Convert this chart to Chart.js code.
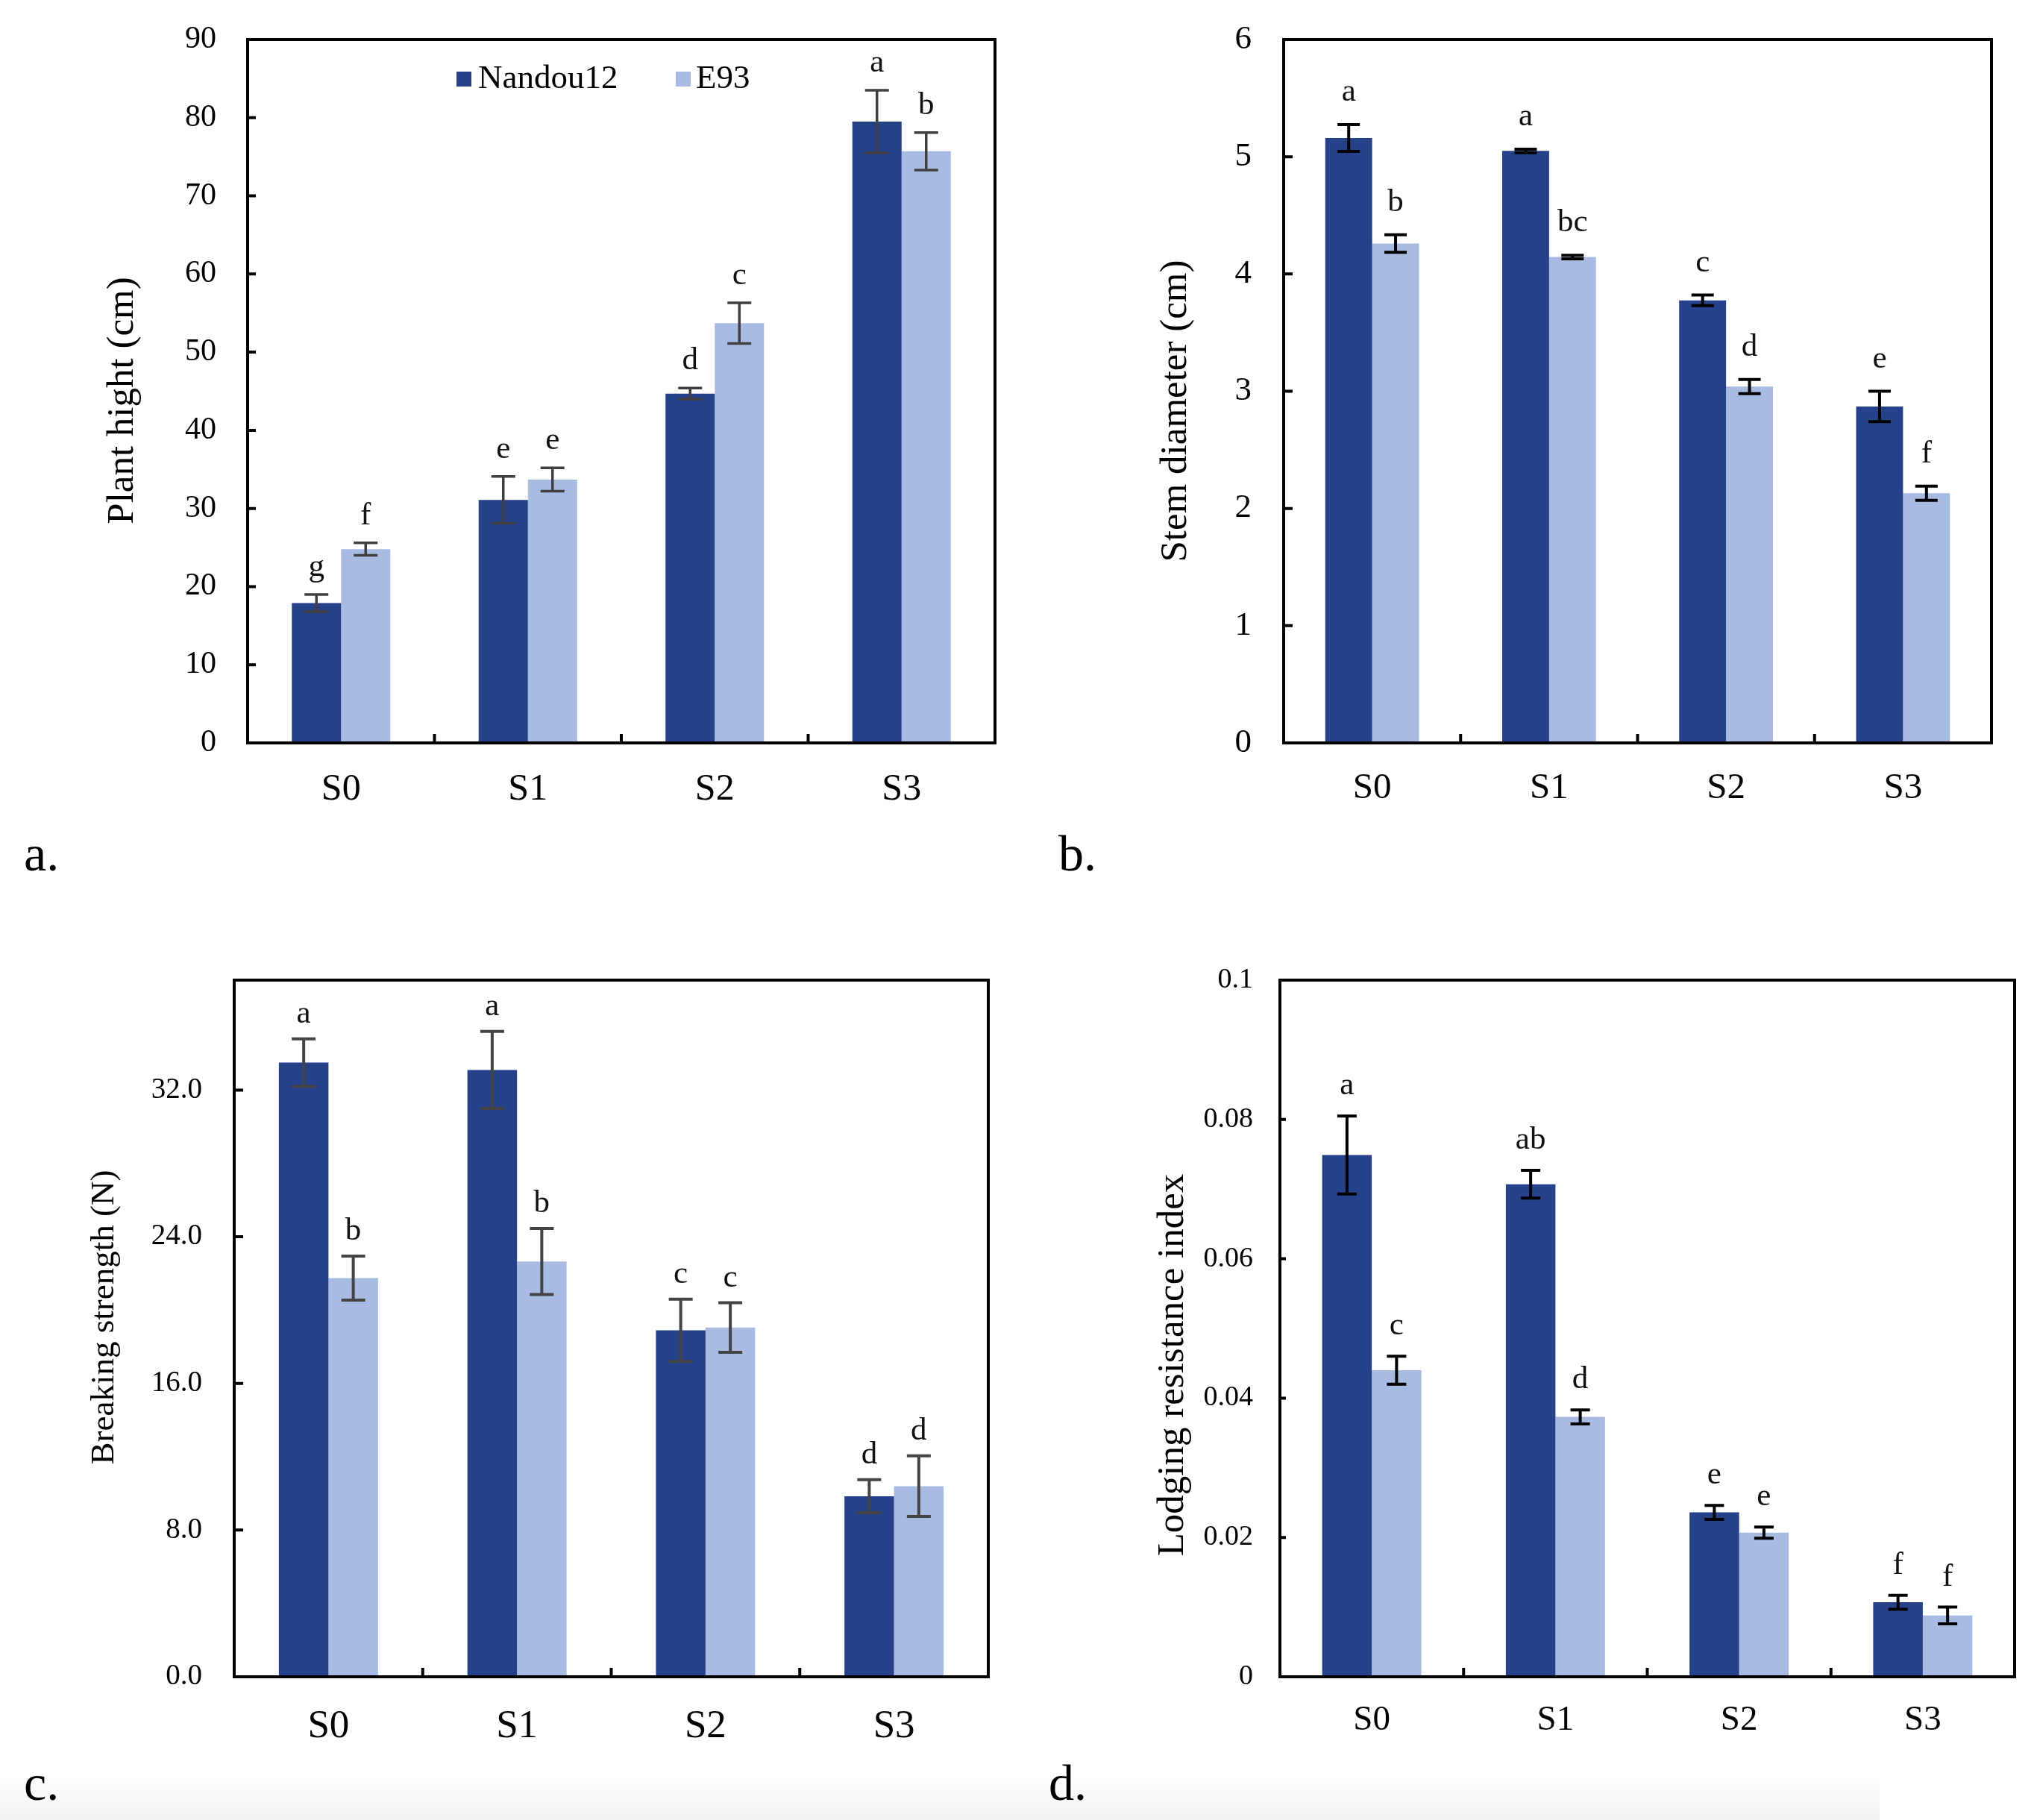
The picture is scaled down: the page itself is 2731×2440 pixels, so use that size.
<!DOCTYPE html>
<html>
<head>
<meta charset="utf-8">
<script src="https://cdn.jsdelivr.net/npm/chart.js@4.4.1/dist/chart.umd.min.js"></script>
<style>
  html, body { margin: 0; padding: 0; background: #ffffff; }
  body { width: 2731px; height: 2440px; overflow: hidden; position: relative; }
  canvas { position: absolute; left: 0; top: 0; }
  #shade { position: absolute; left: 0; top: 2380px; width: 2520px; height: 60px;
           background: linear-gradient(to bottom, rgba(242,242,242,0), rgba(242,242,242,1)); }
</style>
</head>
<body>
<div id="shade"></div>
<script>
// ---------------- DATA ----------------
const categories = ['S0', 'S1', 'S2', 'S3'];
const seriesNames = ['Nandou12', 'E93'];

// a. Plant hight (cm)
const heightNandou = [17.9, 31.1, 44.7, 79.5];
const heightE93 = [24.8, 33.7, 53.7, 75.7];
const heightNandouErr = [1.1, 3.0, 0.7, 4.0];
const heightE93Err = [0.8, 1.5, 2.6, 2.4];
const heightNandouLetters = ['g', 'e', 'd', 'a'];
const heightE93Letters = ['f', 'e', 'c', 'b'];
const heightTicks = [0, 10, 20, 30, 40, 50, 60, 70, 80, 90];
const heightTickLabels = ['0', '10', '20', '30', '40', '50', '60', '70', '80', '90'];

// b. Stem diameter (cm)
const stemNandou = [5.16, 5.05, 3.775, 2.87];
const stemE93 = [4.26, 4.145, 3.04, 2.13];
const stemNandouErr = [0.115, 0.015, 0.045, 0.13];
const stemE93Err = [0.075, 0.015, 0.06, 0.06];
const stemNandouLetters = ['a', 'a', 'c', 'e'];
const stemE93Letters = ['b', 'bc', 'd', 'f'];
const stemTicks = [0, 1, 2, 3, 4, 5, 6];
const stemTickLabels = ['0', '1', '2', '3', '4', '5', '6'];

// c. Breaking strength (N)
const breakNandou = [33.5, 33.1, 18.9, 9.85];
const breakE93 = [21.75, 22.65, 19.05, 10.4];
const breakNandouErr = [1.3, 2.1, 1.7, 0.9];
const breakE93Err = [1.2, 1.8, 1.35, 1.65];
const breakNandouLetters = ['a', 'a', 'c', 'd'];
const breakE93Letters = ['b', 'b', 'c', 'd'];
const breakTicks = [0, 8, 16, 24, 32];
const breakTickLabels = ['0.0', '8.0', '16.0', '24.0', '32.0'];

// d. Lodging resistance index
const lodgNandou = [0.0749, 0.0707, 0.0236, 0.0107];
const lodgE93 = [0.0440, 0.0373, 0.0207, 0.0088];
const lodgNandouErr = [0.0056, 0.0020, 0.0010, 0.0010];
const lodgE93Err = [0.0020, 0.0010, 0.0008, 0.0012];
const lodgNandouLetters = ['a', 'ab', 'e', 'f'];
const lodgE93Letters = ['c', 'd', 'e', 'f'];
const lodgTicks = [0, 0.02, 0.04, 0.06, 0.08, 0.1];
const lodgTickLabels = ['0', '0.02', '0.04', '0.06', '0.08', '0.1'];

// ---------------- STYLE / LAYOUT ----------------
const W = 2731, H = 2440;
const FONT = "'Liberation Serif', 'Times New Roman', serif";
const DARK = '#24418a';
const LIGHT = '#a8bce3';

const panels = [
  { id: 'a', n: heightNandou, e: heightE93, nErr: heightNandouErr, eErr: heightE93Err,
    nLet: heightNandouLetters, eLet: heightE93Letters, ticks: heightTicks, tickLabels: heightTickLabels,
    min: 0, max: 90, plot: { l: 332, t: 53, r: 1334, b: 996 },
    tickFont: 42, tickPad: 42, tickLen: 11, xFont: 50, xPad: 38,
    catPct: 0.527, errColor: '#404040', errWidth: 3.5, capHalf: 16, letterOff: 25,
    title: 'Plant hight (cm)', titleX: 165, titleY: 537, titleFont: 51,
    label: 'a.', labelX: 32, labelY: 1167, legend: true },
  { id: 'b', n: stemNandou, e: stemE93, nErr: stemNandouErr, eErr: stemE93Err,
    nLet: stemNandouLetters, eLet: stemE93Letters, ticks: stemTicks, tickLabels: stemTickLabels,
    min: 0, max: 6, plot: { l: 1721, t: 53, r: 2670, b: 996 },
    tickFont: 45, tickPad: 43, tickLen: 12, xFont: 49, xPad: 37,
    catPct: 0.53, errColor: '#000000', errWidth: 4, capHalf: 15, letterOff: 32,
    title: 'Stem diameter (cm)', titleX: 1577, titleY: 551, titleFont: 51,
    label: 'b.', labelX: 1419, labelY: 1167, legend: false },
  { id: 'c', n: breakNandou, e: breakE93, nErr: breakNandouErr, eErr: breakE93Err,
    nLet: breakNandouLetters, eLet: breakE93Letters, ticks: breakTicks, tickLabels: breakTickLabels,
    min: 0, max: 38, plot: { l: 314, t: 1314, r: 1325, b: 2248 },
    tickFont: 39, tickPad: 43, tickLen: 12, xFont: 53, xPad: 41,
    catPct: 0.526, errColor: '#444444', errWidth: 4, capHalf: 16, letterOff: 22,
    title: 'Breaking strength (N)', titleX: 140, titleY: 1766, titleFont: 45,
    label: 'c.', labelX: 32, labelY: 2413, legend: false },
  { id: 'd', n: lodgNandou, e: lodgE93, nErr: lodgNandouErr, eErr: lodgE93Err,
    nLet: lodgNandouLetters, eLet: lodgE93Letters, ticks: lodgTicks, tickLabels: lodgTickLabels,
    min: 0, max: 0.1, plot: { l: 1716, t: 1314, r: 2701, b: 2248 },
    tickFont: 38, tickPad: 36, tickLen: 8, xFont: 47, xPad: 35,
    catPct: 0.54, errColor: '#000000', errWidth: 4, capHalf: 13, letterOff: 29,
    title: 'Lodging resistance index', titleX: 1573, titleY: 1830, titleFont: 51,
    label: 'd.', labelX: 1406, labelY: 2413, legend: false }
];

function panelPlugin(p) {
  return {
    id: 'panel_' + p.id,
    afterDatasetsDraw(chart) {
      const ctx = chart.ctx;
      const ys = chart.scales.y;
      ctx.save();
      chart.data.datasets.forEach((ds, di) => {
        const meta = chart.getDatasetMeta(di);
        meta.data.forEach((bar, i) => {
          const v = ds.data[i], err = ds.errors[i];
          const x = bar.x;
          const yT = ys.getPixelForValue(v + err);
          const yB = ys.getPixelForValue(v - err);
          ctx.strokeStyle = p.errColor;
          ctx.lineWidth = p.errWidth;
          ctx.lineCap = 'butt';
          ctx.beginPath();
          ctx.moveTo(x, yT); ctx.lineTo(x, yB);
          ctx.moveTo(x - p.capHalf, yT); ctx.lineTo(x + p.capHalf, yT);
          ctx.moveTo(x - p.capHalf, yB); ctx.lineTo(x + p.capHalf, yB);
          ctx.stroke();
          ctx.fillStyle = '#111111';
          ctx.font = '43px ' + FONT;
          ctx.textAlign = 'center';
          ctx.textBaseline = 'alphabetic';
          ctx.fillText(ds.letters[i], x, yT - p.letterOff);
        });
      });
      ctx.restore();
    },
    afterDraw(chart) {
      const ctx = chart.ctx;
      const a = chart.chartArea;
      const xs = chart.scales.x, ys = chart.scales.y;
      ctx.save();
      // frame
      ctx.strokeStyle = '#000000';
      ctx.lineWidth = 4;
      ctx.strokeRect(a.left, a.top, a.right - a.left, a.bottom - a.top);
      // inward x ticks at category boundaries
      ctx.beginPath();
      for (let i = 1; i < categories.length; i++) {
        const bx = (xs.getPixelForValue(i - 1) + xs.getPixelForValue(i)) / 2;
        ctx.moveTo(bx, a.bottom);
        ctx.lineTo(bx, a.bottom - 12);
      }
      // inward y ticks
      ys.ticks.forEach(t => {
        const py = ys.getPixelForValue(t.value);
        ctx.moveTo(a.left, py);
        ctx.lineTo(a.left + p.tickLen, py);
      });
      ctx.lineWidth = 4;
      ctx.stroke();
      // y title
      ctx.fillStyle = '#000000';
      ctx.font = p.titleFont + 'px ' + FONT;
      ctx.textAlign = 'center';
      ctx.textBaseline = 'middle';
      ctx.save();
      ctx.translate(p.titleX, p.titleY);
      ctx.rotate(-Math.PI / 2);
      ctx.fillText(p.title, 0, 0);
      ctx.restore();
      // panel label
      ctx.font = '68px ' + FONT;
      ctx.textAlign = 'left';
      ctx.textBaseline = 'alphabetic';
      ctx.fillText(p.label, p.labelX, p.labelY);
      // legend
      if (p.legend) {
        const items = [{ sx: 612, tx: 641 }, { sx: 906, tx: 933 }];
        ctx.font = '45px ' + FONT;
        ctx.textBaseline = 'middle';
        chart.data.datasets.forEach((ds, di) => {
          ctx.fillStyle = ds.backgroundColor;
          ctx.fillRect(items[di].sx, 96, 20, 20);
          ctx.fillStyle = '#000000';
          ctx.fillText(ds.label, items[di].tx, 106);
        });
      }
      ctx.restore();
    }
  };
}

function makeChart(p) {
  const canvas = document.createElement('canvas');
  canvas.width = W; canvas.height = H;
  canvas.style.width = W + 'px'; canvas.style.height = H + 'px';
  document.body.appendChild(canvas);
  new Chart(canvas, {
    type: 'bar',
    data: {
      labels: categories,
      datasets: [
        { label: seriesNames[0], data: p.n, errors: p.nErr, letters: p.nLet,
          backgroundColor: DARK, borderWidth: 0, categoryPercentage: p.catPct, barPercentage: 1 },
        { label: seriesNames[1], data: p.e, errors: p.eErr, letters: p.eLet,
          backgroundColor: LIGHT, borderWidth: 0, categoryPercentage: p.catPct, barPercentage: 1 }
      ]
    },
    options: {
      responsive: false,
      animation: false,
      devicePixelRatio: 1,
      layout: { padding: { left: 0, top: p.plot.t, right: W - p.plot.r, bottom: 0 } },
      plugins: { legend: { display: false }, tooltip: { enabled: false }, title: { display: false } },
      scales: {
        x: {
          grid: { display: false, drawTicks: false },
          border: { display: false },
          ticks: { color: '#000000', font: { family: FONT, size: p.xFont, lineHeight: 1 },
                   padding: p.xPad, maxRotation: 0, autoSkip: false },
          afterFit: s => { s.height = H - p.plot.b; s.paddingLeft = 0; s.paddingRight = 0; }
        },
        y: {
          min: p.min, max: p.max, bounds: 'data',
          grid: { display: false, drawTicks: false },
          border: { display: false },
          afterBuildTicks: s => { s.ticks = p.ticks.map(v => ({ value: v })); },
          ticks: { color: '#000000', font: { family: FONT, size: p.tickFont, lineHeight: 1 },
                   padding: p.tickPad, autoSkip: false,
                   callback: (v, i) => p.tickLabels[i] },
          afterFit: s => { s.width = p.plot.l; s.paddingTop = 0; s.paddingBottom = 0; }
        }
      }
    },
    plugins: [panelPlugin(p)]
  });
}

panels.forEach(makeChart);
</script>
</body>
</html>
